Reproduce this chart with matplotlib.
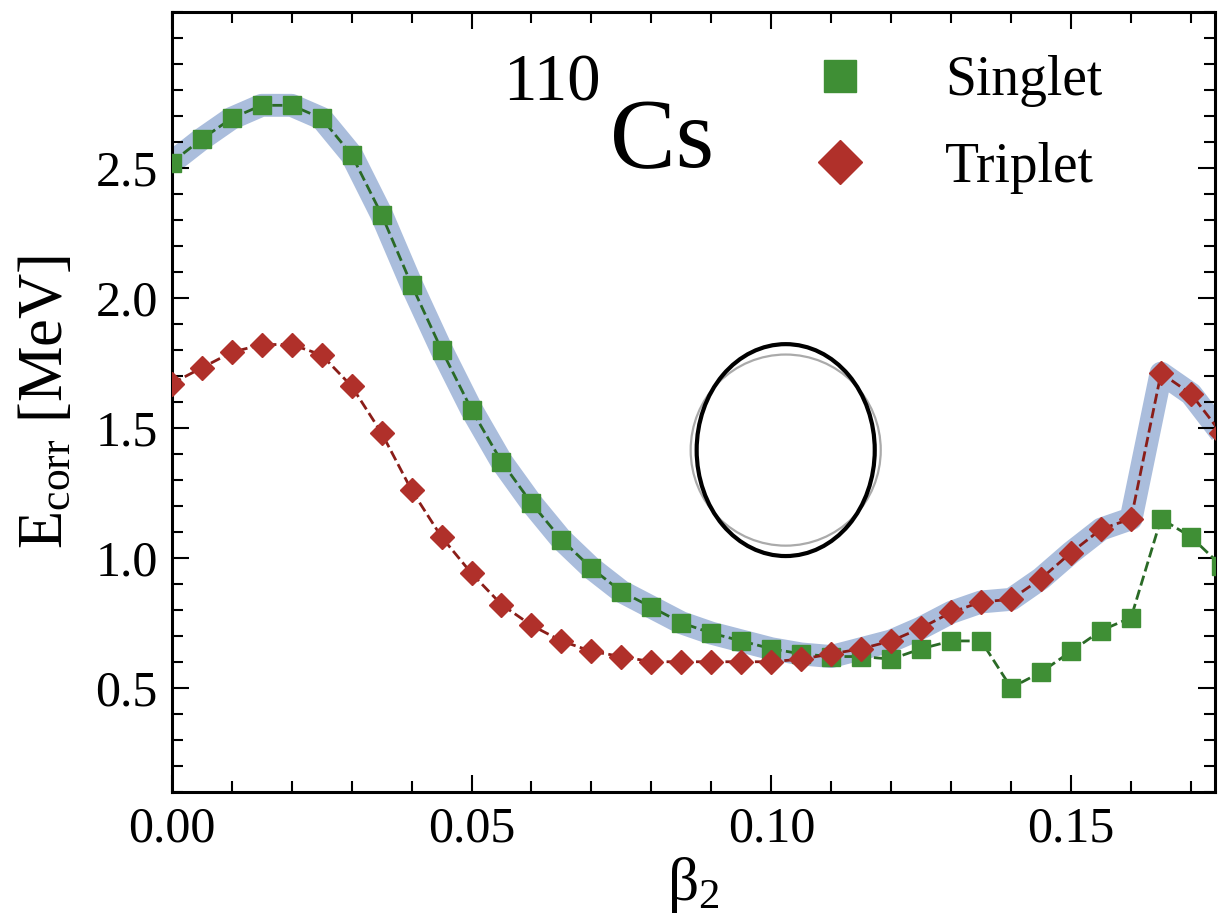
import matplotlib
matplotlib.use("Agg")
import matplotlib.pyplot as plt
from matplotlib.patches import Ellipse
from matplotlib.lines import Line2D
from matplotlib.ticker import MultipleLocator, FixedLocator

plt.rcParams['font.family'] = ['Liberation Serif', 'DejaVu Serif']
plt.rcParams['mathtext.fontset'] = 'custom'
plt.rcParams['mathtext.rm'] = 'Liberation Serif'
plt.rcParams['mathtext.it'] = 'Liberation Serif:italic'

# deformation grid
beta2 = [0.000, 0.005, 0.010, 0.015, 0.020, 0.025, 0.030, 0.035, 0.040, 0.045,
         0.050, 0.055, 0.060, 0.065, 0.070, 0.075, 0.080, 0.085, 0.090, 0.095,
         0.100, 0.105, 0.110, 0.115, 0.120, 0.125, 0.130, 0.135, 0.140, 0.145,
         0.150, 0.155, 0.160, 0.165, 0.170, 0.175]

singlet = [2.52, 2.61, 2.69, 2.74, 2.74, 2.69, 2.55, 2.32, 2.05, 1.80,
           1.57, 1.37, 1.21, 1.07, 0.96, 0.87, 0.81, 0.75, 0.71, 0.68,
           0.65, 0.63, 0.62, 0.62, 0.61, 0.65, 0.68, 0.68, 0.50, 0.56,
           0.64, 0.72, 0.77, 1.15, 1.08, 0.97]

triplet = [1.67, 1.73, 1.79, 1.82, 1.82, 1.78, 1.66, 1.48, 1.26, 1.08,
           0.94, 0.82, 0.74, 0.68, 0.64, 0.62, 0.60, 0.60, 0.60, 0.60,
           0.60, 0.61, 0.63, 0.65, 0.68, 0.73, 0.79, 0.83, 0.84, 0.92,
           1.02, 1.11, 1.15, 1.71, 1.63, 1.48]

# ground-state band: singlet up to 0.11, triplet afterwards
n_switch = 23
band = singlet[:n_switch] + triplet[n_switch:]

yticks = [0.5, 1.0, 1.5, 2.0, 2.5]

fig = plt.figure(figsize=(12.22, 9.23), dpi=100)
ax = fig.add_axes([0.1405, 0.1422, 0.8538, 0.8451])

ax.plot(beta2, band, color='#aabddc', lw=16.5, solid_capstyle='butt',
        solid_joinstyle='round', zorder=1)
ax.plot(beta2, singlet, ls='--', color='#2a6a26', lw=2, marker='s', ms=13.5,
        mfc='#3f8f35', mec='#3f8f35', zorder=3)
ax.plot(beta2, triplet, ls='--', color='#8a1d18', lw=2, marker='D', ms=12,
        mfc='#b0302a', mec='#b0302a', zorder=3)

# shape inset: sphere (grey) and deformed shape (black)
ax.add_patch(Ellipse((0.1024, 1.414), 0.0317, 0.735, fill=False,
                     ec='#aaaaaa', lw=1.6, zorder=4))
ax.add_patch(Ellipse((0.1024, 1.414), 0.0297, 0.815, fill=False,
                     ec='black', lw=3, zorder=5))

ax.text(0.318, 0.886, '110', fontsize=48, ha='left', va='baseline',
        transform=ax.transAxes)
ax.text(0.420, 0.801, 'Cs', fontsize=71, ha='left', va='baseline',
        transform=ax.transAxes)

handles = [Line2D([], [], ls='none', marker='s', ms=23, mfc='#3f8f35', mec='#3f8f35'),
           Line2D([], [], ls='none', marker='D', ms=22, mfc='#b0302a', mec='#b0302a')]
ax.legend(handles, ['Singlet', 'Triplet'], loc='upper left',
          bbox_to_anchor=(0.6137, 0.944), frameon=False, fontsize=40,
          handlelength=1.0, handletextpad=1.4, labelspacing=0.62,
          borderpad=0, borderaxespad=0)

ax.set_xlim(0, 0.174)
ax.set_ylim(0.1, 3.1)
ax.xaxis.set_major_locator(MultipleLocator(0.05))
ax.xaxis.set_minor_locator(MultipleLocator(0.01))
ax.yaxis.set_major_locator(FixedLocator(yticks))
ax.yaxis.set_minor_locator(MultipleLocator(0.1))
ax.tick_params(which='both', direction='in', top=True, right=True, width=1.5,
               labelsize=36, pad=10)
ax.tick_params(which='major', length=12)
ax.tick_params(which='minor', length=8)
ax.xaxis.set_major_formatter(plt.FuncFormatter(lambda v, p: f'{v:.2f}'))
ax.yaxis.set_major_formatter(plt.FuncFormatter(lambda v, p: f'{v:.1f}'))
for s in ax.spines.values():
    s.set_linewidth(2.2)

ax.set_xlabel('β$_2$', fontsize=44, labelpad=2)
ax.set_ylabel('E$_{\\rm corr}$ [MeV]', fontsize=45, labelpad=14)

fig.savefig('out.png', dpi=100)
